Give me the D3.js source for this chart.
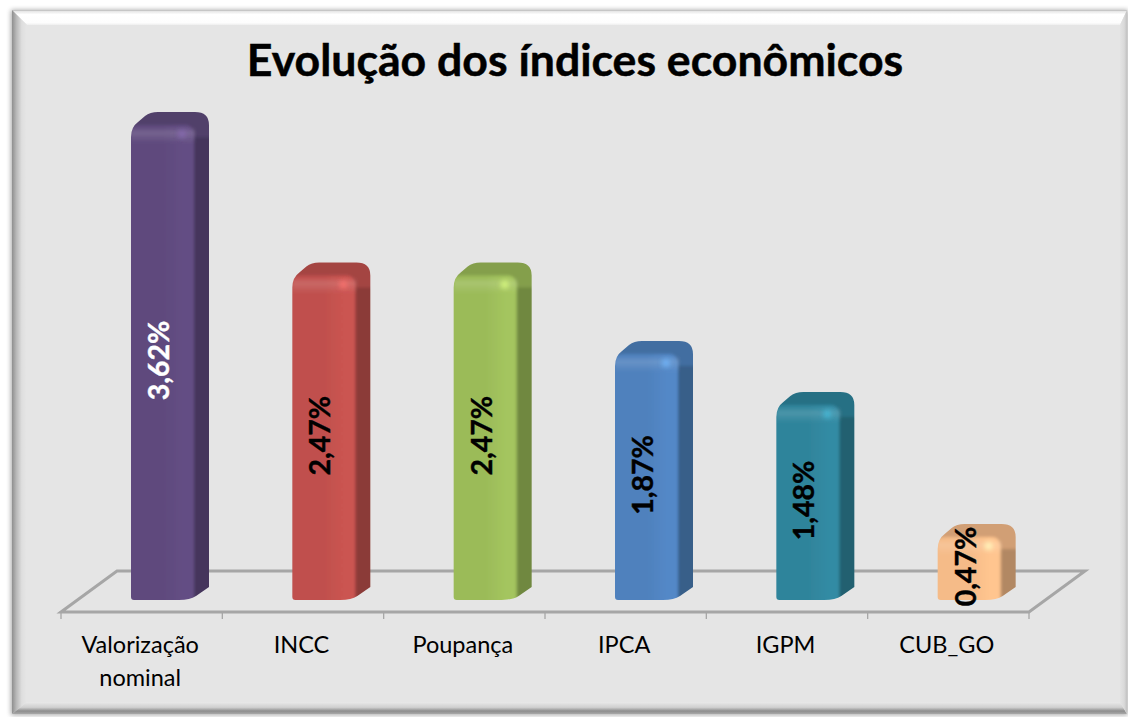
<!DOCTYPE html>
<html><head><meta charset="utf-8">
<script src="https://cdn.jsdelivr.net/npm/d3@7"></script>
<style>html,body{margin:0;padding:0;background:#fff;overflow:hidden}svg{display:block}text{font-family:Lato,"Open Sans",sans-serif}</style>
</head><body><div id="c"></div>
<script>
const titleText = "Evolução dos índices econômicos";
const categories = ["Valorização nominal","INCC","Poupança","IPCA","IGPM","CUB_GO"];
const values = [3.62,2.47,2.47,1.87,1.48,0.47];
const labels = ["3,62%","2,47%","2,47%","1,87%","1,48%","0,47%"];
const barColors = ["#5f4a7d","#c0504d","#9bbb59","#4f81bd","#2f849b","#f5bb88"];
const labelColors = ["#ffffff","#000000","#000000","#000000","#000000","#000000"];

const W=1128,H=717;
const svg=d3.select("#c").append("svg").attr("width",W).attr("height",H);
const defs=svg.append("defs");
function lin(id,x1,y1,x2,y2,stops){const g=defs.append("linearGradient").attr("id",id).attr("x1",x1).attr("y1",y1).attr("x2",x2).attr("y2",y2);
 stops.forEach(s=>g.append("stop").attr("offset",s[0]).attr("stop-color",s[1]).attr("stop-opacity",s[2]===undefined?1:s[2]));}
function blur(id,s){defs.append("filter").attr("id",id).attr("x","-30%").attr("y","-30%").attr("width","160%").attr("height","160%").append("feGaussianBlur").attr("stdDeviation",s);}
blur("soft",0.6);blur("inner",1.8);blur("shadow",2.5);
defs.select("#shadow").attr("x","-5%").attr("width","110%");
defs.append("filter").attr("id","glow").attr("x","-150%").attr("y","-150%").attr("width","400%").attr("height","400%").append("feGaussianBlur").attr("stdDeviation",2.5);

// frame
const fx0=12,fy0=10,fx1=1127,fy1=714,ix0=27,iy0=25,ix1=1120,iy1=702;
svg.append("rect").attr("x",fx0-1).attr("y",fy0).attr("width",fx1-fx0+2).attr("height",fy1-fy0+1).attr("fill","#000").attr("opacity",.35).attr("filter","url(#shadow)");
svg.append("rect").attr("x",fx0).attr("y",fy0).attr("width",fx1-fx0).attr("height",fy1-fy0).attr("fill","#e5e5e5");
lin("bTop",0,0,0,1,[[0,"#b5b5b5"],[.1,"#e8e8e8"],[.3,"#ffffff"],[.85,"#fdfdfd"],[1,"#eeeeee"]]);
lin("bLeft",0,0,1,0,[[0,"#8f8f8f"],[.3,"#b9b9b9"],[.65,"#dedede"],[1,"#e6e6e6"]]);
lin("bBot",0,0,0,1,[[0,"#e9e9e9"],[.45,"#cfcfcf"],[.75,"#8d8d8d"],[1,"#a8a8a8"]]);
lin("bRight",0,0,1,0,[[0,"#e3e3e3"],[.6,"#d9d9d9"],[1,"#c2c2c2"]]);
const poly=(p,f)=>svg.append("polygon").attr("points",p.map(d=>d.join(",")).join(" ")).attr("fill",f);
poly([[fx0,fy0],[fx1,fy0],[ix1,iy0],[ix0,iy0]],"url(#bTop)");
poly([[fx0,fy0],[ix0,iy0],[ix0,iy1],[fx0,fy1]],"url(#bLeft)");
poly([[fx0,fy1],[ix0,iy1],[ix1,iy1],[fx1,fy1]],"url(#bBot)");
poly([[fx1,fy0],[ix1,iy0],[ix1,iy1],[fx1,fy1]],"url(#bRight)");

// title
svg.append("text").attr("x",575).attr("y",76).attr("text-anchor","middle").attr("font-size",44.6).attr("font-weight",700).attr("stroke","#000").attr("stroke-width",0.5).attr("fill","#000").text(titleText);

// scales
const x=d3.scaleBand().domain(categories).range([61,1029]);
const y=d3.scaleLinear().domain([0,3.62]).range([602.5,129]);
const base=600;
const barOffset=70,barW=64,depth=14,rise=17;

// floor
const fy=612,by=571,fd=56;
svg.append("polygon").attr("points",`61,${fy} ${61+fd},${by} ${1029+fd},${by} 1029,${fy}`).attr("fill","none").attr("stroke","#a6a6a6").attr("stroke-width",3).attr("stroke-linejoin","miter");
const ticks=categories.map(c=>x(c)).concat([x.range()[1]]);
svg.selectAll("line.t").data(ticks).enter().append("line").attr("class","t").attr("x1",d=>d).attr("x2",d=>d).attr("y1",fy).attr("y2",fy+7).attr("stroke","#a6a6a6").attr("stroke-width",1.3);

// bars
function sil(x0,yt){const w=barW,d=depth,b=base,R=x0+w+d,T=yt-rise;
 const bs=Math.max(yt+6,b-13);
 return `M${x0},${b-3}L${x0},${yt+8}Q${x0},${yt-2} ${x0+7},${yt-7}L${x0+14},${T+4}Q${x0+19},${T} ${x0+27},${T}L${R-14},${T}Q${R},${T} ${R},${T+13}L${R},${bs}L${x0+w+1},${b-4}Q${x0+w-5},${b} ${x0+w-16},${b}L${x0+3},${b}Q${x0},${b} ${x0},${b-3}Z`;}
categories.forEach((c,i)=>{
 const col=d3.color(barColors[i]);const x0=x(c)+barOffset,yt=y(values[i]),b=base;
 const hi=col.brighter(.15).formatHex(),md=col.formatHex(),lo=col.darker(.22).formatHex(),top=col.darker(.45).formatHex(),side=col.darker(.9).formatHex();
 lin("f"+i,0,0,1,0,[[0,lo],[.08,md],[.55,md],[.85,hi],[1,hi]]);
 lin("v"+i,0,0,0,1,[[0,"#fff",0],[.35,"#fff",.14],[1,"#fff",0]]);
 const g=svg.append("g").attr("filter","url(#soft)");
 defs.append("clipPath").attr("id","cp"+i).append("path").attr("d",sil(x0,yt));
 const cg=g.append("g").attr("clip-path",`url(#cp${i})`);
 const inner=cg.append("g").attr("filter","url(#inner)");
 inner.append("path").attr("d",sil(x0,yt)).attr("fill",top).attr("stroke",top).attr("stroke-width",6);
 inner.append("rect").attr("x",x0+barW-3).attr("y",yt+8).attr("width",depth+8).attr("height",b-yt).attr("fill",side);
 inner.append("path").attr("d",`M${x0-6},${b+6}L${x0-6},${yt+6}Q${x0-6},${yt-4} ${x0+9},${yt-4}L${x0+barW-10},${yt-4}Q${x0+barW-1},${yt-4} ${x0+barW-1},${yt+8}L${x0+barW-1},${b+6}Z`).attr("fill",`url(#f${i})`);
 inner.append("rect").attr("x",x0).attr("y",yt-2).attr("width",barW).attr("height",16).attr("fill",`url(#v${i})`);
 cg.append("circle").attr("cx",x0+barW-13).attr("cy",yt+5).attr("r",4).attr("fill",col.brighter(1).formatHex()).attr("opacity",.8).attr("filter","url(#glow)");
});

// value labels
labels.forEach((t,i)=>{
 const x0=x(categories[i])+barOffset,cy=(y(values[i])+base)/2-4;
 svg.append("text").attr("transform",`translate(${x0+38},${cy}) rotate(-90)`).attr("text-anchor","middle").attr("font-size",28.5).attr("font-weight",700).attr("stroke",labelColors[i]).attr("stroke-width",0.4).attr("fill",labelColors[i]).text(t);
});

// category labels
categories.forEach(c=>{
 const cx=x(c)+x.bandwidth()/2-1.5;
 const words=c.split(" ");
 const te=svg.append("text").attr("text-anchor","middle").attr("font-size",23.5).attr("fill","#000");
 words.forEach((w,j)=>te.append("tspan").attr("x",cx).attr("y",653+j*33).text(w));
});
</script></body></html>
